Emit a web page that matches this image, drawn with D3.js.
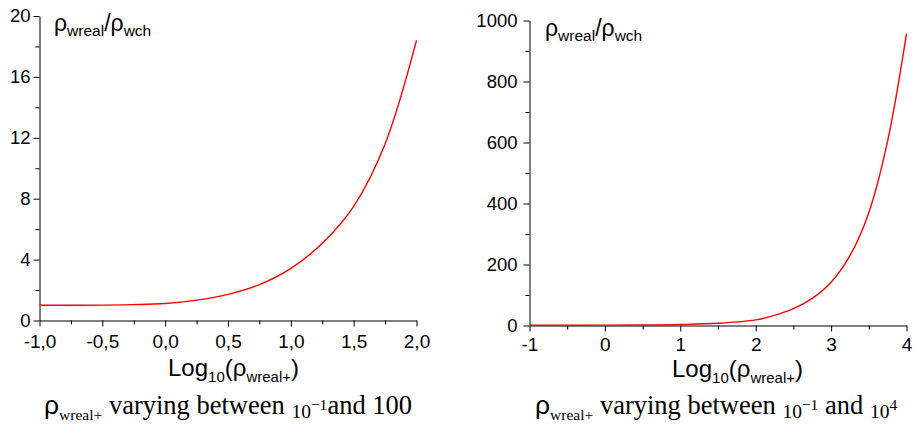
<!DOCTYPE html>
<html>
<head>
<meta charset="utf-8">
<script src="https://cdn.jsdelivr.net/npm/d3@7"></script>
<style>
  body { margin: 0; background: #fff; }
  svg { display: block; }
</style>
</head>
<body>
<svg id="chart" width="916" height="427"></svg>
<script>
// left panel: rho_wreal+ between 1e-1 and 100
const leftLogRho = [-1, -0.75, -0.5, -0.25, 0, 0.25, 0.5, 0.75, 1, 1.25, 1.5, 1.75, 2];
const leftRatio = [1.0, 1.0, 1.01, 1.04, 1.12, 1.34, 1.72, 2.35, 3.42, 5.07, 7.5, 11.6, 18.4];
const leftXTicks = [-1, -0.5, 0, 0.5, 1, 1.5, 2];
const leftXMinor = [-0.75, -0.25, 0.25, 0.75, 1.25, 1.75];
const leftYTicks = [0, 4, 8, 12, 16, 20];
const leftYMinor = [2, 6, 10, 14, 18];

// right panel: rho_wreal+ between 1e-1 and 1e4
const rightLogRho = [-1, -0.5, 0, 0.5, 1, 1.5, 2, 2.25, 2.5, 2.75, 3, 3.25, 3.5, 3.75, 4];
const rightRatio = [1, 1, 1.1, 1.7, 3.4, 7.5, 18.4, 33, 55, 89, 142, 229, 370, 605, 957];
const rightXTicks = [-1, 0, 1, 2, 3, 4];
const rightXMinor = [-0.5, 0.5, 1.5, 2.5, 3.5];
const rightYTicks = [0, 200, 400, 600, 800, 1000];
const rightYMinor = [100, 300, 500, 700, 900];

const sans = "'Liberation Sans', Arial, sans-serif";
const serif = "'Liberation Serif', 'Times New Roman', serif";

const commaLocale = d3.formatLocale({ decimal: ",", thousands: ".", grouping: [3], currency: ["", ""], minus: "-" });

const svg = d3.select("#chart");

function drawPanel(p) {
    const x = d3.scaleLinear().domain(p.xDomain).range([p.left, p.right]);
    const y = d3.scaleLinear().domain(p.yDomain).range([p.bottom, p.top]);

    const g = svg.append("g");

    // minor ticks first, no domain
    g.append("g")
        .attr("transform", `translate(0,${p.bottom})`)
        .call(d3.axisBottom(x).tickValues(p.xMinor).tickSize(4).tickFormat(""))
        .call(s => s.select(".domain").remove());
    g.append("g")
        .attr("transform", `translate(${p.left},0)`)
        .call(d3.axisLeft(y).tickValues(p.yMinor).tickSize(4).tickFormat(""))
        .call(s => s.select(".domain").remove());

    const xAxis = g.append("g")
        .attr("transform", `translate(0,${p.bottom})`)
        .call(d3.axisBottom(x).tickValues(p.xTicks).tickSize(6).tickSizeOuter(0)
            .tickPadding(p.xPad).tickFormat(p.xFormat));
    xAxis.selectAll("text").attr("font-size", 19);

    const yAxis = g.append("g")
        .attr("transform", `translate(${p.left},0)`)
        .call(d3.axisLeft(y).tickValues(p.yTicks).tickSize(6).tickSizeOuter(0)
            .tickPadding(p.yPad).tickFormat(d3.format("d")));
    yAxis.selectAll("text").attr("font-size", 18.5);

    g.selectAll(".tick line, .domain").attr("stroke", "#000").attr("stroke-width", 1);
    g.selectAll("text").attr("font-family", sans).attr("fill", "#000");

    const line = d3.line()
        .x(d => x(d[0]))
        .y(d => y(d[1]))
        .curve(d3.curveCatmullRom.alpha(0.5));

    g.append("path")
        .datum(d3.zip(p.xs, p.ys))
        .attr("fill", "none")
        .attr("stroke", "#ff0000")
        .attr("stroke-width", 1.4)
        .attr("d", line);

    // y title  rho_wreal / rho_wch
    const yt = g.append("text")
        .attr("x", p.yTitleX).attr("y", p.yTitleY)
        .attr("font-family", sans).attr("font-size", 23);
    yt.append("tspan").text("ρ");
    yt.append("tspan").attr("font-size", 15.5).attr("dy", 5).text("wreal");
    yt.append("tspan").attr("dy", -5).text("/ρ");
    yt.append("tspan").attr("font-size", 15.5).attr("dy", 5).text("wch");

    // x title  Log10(rho_wreal+)
    const xt = g.append("text")
        .attr("x", p.xTitleX).attr("y", p.xTitleY)
        .attr("font-family", sans).attr("font-size", 24);
    xt.append("tspan").text("Log");
    xt.append("tspan").attr("font-size", 15).attr("dy", 6).text("10");
    xt.append("tspan").attr("dy", -6).text("(ρ");
    xt.append("tspan").attr("font-size", 15).attr("dy", 6).text("wreal+");
    xt.append("tspan").attr("dy", -6).text(")");

    // caption below
    const cap = g.append("text")
        .attr("x", p.capX).attr("y", 413.5)
        .attr("font-family", serif).attr("font-size", 26.5);
    cap.append("tspan").attr("font-family", sans).text("ρ");
    cap.append("tspan").attr("font-size", 15.5).attr("dy", 6).text("wreal+");
    cap.append("tspan").attr("dy", -6).text(" varying between ");
    cap.append("tspan").attr("font-size", 19.5).attr("dy", 4.5).text("10");
    cap.append("tspan").attr("font-size", 15.5).attr("dy", -8.5).text("−1");
    p.capEnd.forEach(part => {
        if (part.sup) {
            cap.append("tspan").attr("font-size", 15.5).attr("dy", -8.5).text(part.text);
        } else if (part.small) {
            cap.append("tspan").attr("font-size", 19.5).attr("dy", part.dy).text(part.text);
        } else {
            cap.append("tspan").attr("font-size", 26.5).attr("dy", part.dy).text(part.text);
        }
    });
}

drawPanel({
    xDomain: [-1, 2], yDomain: [0, 20],
    left: 39.5, right: 416.5, top: 16, bottom: 320.5,
    xs: leftLogRho, ys: leftRatio,
    xTicks: leftXTicks, xMinor: leftXMinor, yTicks: leftYTicks, yMinor: leftYMinor,
    xFormat: commaLocale.format(".1f"), xPad: 8, yPad: 3,
    yTitleX: 54, yTitleY: 31,
    xTitleX: 168, xTitleY: 376,
    capX: 44,
    capEnd: [{ text: "and 100", dy: 4 }]
});

drawPanel({
    xDomain: [-1, 4], yDomain: [0, 1000],
    left: 529.5, right: 906.5, top: 20.5, bottom: 325.5,
    xs: rightLogRho, ys: rightRatio,
    xTicks: rightXTicks, xMinor: rightXMinor, yTicks: rightYTicks, yMinor: rightYMinor,
    xFormat: commaLocale.format("d"), xPad: 6, yPad: 6,
    yTitleX: 545, yTitleY: 35.5,
    xTitleX: 672, xTitleY: 377,
    capX: 535,
    capEnd: [{ text: " and ", dy: 4 }, { text: "10", small: true, dy: 4.5 }, { text: "4", sup: true }]
});
</script>
</body>
</html>
